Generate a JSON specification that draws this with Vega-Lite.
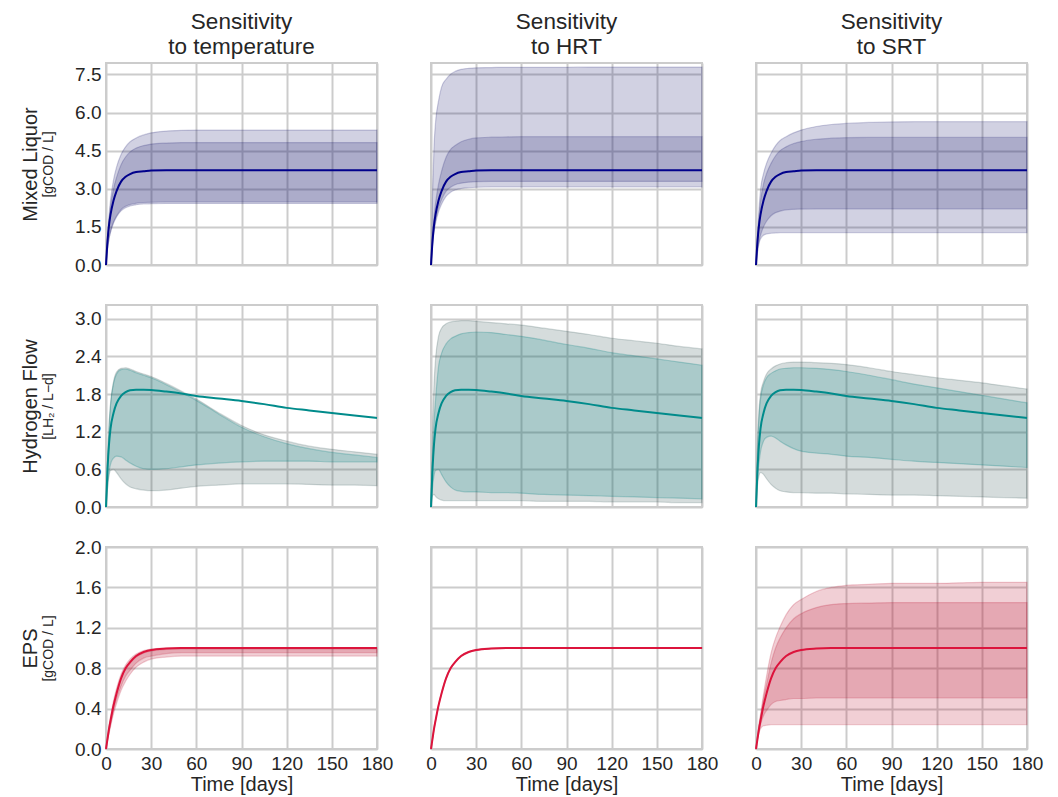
{
"$schema": "https://vega.github.io/schema/vega-lite/v6.json",
"background": "white",
"padding": {"left": 19, "top": 9, "right": 5, "bottom": 5},
"datasets": {"d": [
{"p":"MT","t":0,"c":0,"ol":0,"oh":0,"il":0,"ih":0},
{"p":"MT","t":1,"c":0.93,"ol":0.61,"oh":1.1,"il":0.62,"ih":1.0},
{"p":"MT","t":2,"c":1.57,"ol":1.02,"oh":1.95,"il":1.04,"ih":1.75},
{"p":"MT","t":3,"c":1.98,"ol":1.28,"oh":2.55,"il":1.31,"ih":2.3},
{"p":"MT","t":5,"c":2.54,"ol":1.65,"oh":3.35,"il":1.69,"ih":3.0},
{"p":"MT","t":7,"c":2.91,"ol":1.89,"oh":3.85,"il":1.93,"ih":3.45},
{"p":"MT","t":10,"c":3.28,"ol":2.13,"oh":4.35,"il":2.18,"ih":3.95},
{"p":"MT","t":13,"c":3.47,"ol":2.25,"oh":4.65,"il":2.31,"ih":4.25},
{"p":"MT","t":16,"c":3.58,"ol":2.32,"oh":4.85,"il":2.38,"ih":4.45},
{"p":"MT","t":20,"c":3.66,"ol":2.37,"oh":5.0,"il":2.43,"ih":4.6},
{"p":"MT","t":25,"c":3.69,"ol":2.4,"oh":5.12,"il":2.46,"ih":4.7},
{"p":"MT","t":30,"c":3.72,"ol":2.41,"oh":5.2,"il":2.47,"ih":4.76},
{"p":"MT","t":40,"c":3.73,"ol":2.42,"oh":5.27,"il":2.48,"ih":4.8},
{"p":"MT","t":50,"c":3.73,"ol":2.42,"oh":5.3,"il":2.48,"ih":4.82},
{"p":"MT","t":60,"c":3.73,"ol":2.42,"oh":5.31,"il":2.48,"ih":4.82},
{"p":"MT","t":75,"c":3.73,"ol":2.42,"oh":5.31,"il":2.48,"ih":4.82},
{"p":"MT","t":90,"c":3.73,"ol":2.42,"oh":5.31,"il":2.48,"ih":4.82},
{"p":"MT","t":105,"c":3.73,"ol":2.42,"oh":5.31,"il":2.48,"ih":4.82},
{"p":"MT","t":120,"c":3.73,"ol":2.42,"oh":5.31,"il":2.48,"ih":4.82},
{"p":"MT","t":135,"c":3.73,"ol":2.42,"oh":5.31,"il":2.48,"ih":4.82},
{"p":"MT","t":150,"c":3.73,"ol":2.42,"oh":5.31,"il":2.48,"ih":4.82},
{"p":"MT","t":165,"c":3.73,"ol":2.42,"oh":5.31,"il":2.48,"ih":4.82},
{"p":"MT","t":180,"c":3.73,"ol":2.42,"oh":5.31,"il":2.48,"ih":4.82},

{"p":"MH","t":0,"c":0,"ol":0,"oh":0,"il":0,"ih":0},
{"p":"MH","t":1,"c":0.93,"ol":0.77,"oh":2.72,"il":0.82,"ih":1.06},
{"p":"MH","t":2,"c":1.57,"ol":1.29,"oh":4.67,"il":1.38,"ih":1.87},
{"p":"MH","t":3,"c":1.98,"ol":1.63,"oh":5.6,"il":1.74,"ih":2.42},
{"p":"MH","t":5,"c":2.54,"ol":2.09,"oh":6.46,"il":2.24,"ih":3.18},
{"p":"MH","t":7,"c":2.91,"ol":2.39,"oh":7.0,"il":2.57,"ih":3.69},
{"p":"MH","t":10,"c":3.28,"ol":2.7,"oh":7.31,"il":2.9,"ih":4.24},
{"p":"MH","t":13,"c":3.47,"ol":2.86,"oh":7.51,"il":3.06,"ih":4.55},
{"p":"MH","t":16,"c":3.58,"ol":2.95,"oh":7.62,"il":3.16,"ih":4.7},
{"p":"MH","t":20,"c":3.66,"ol":3.01,"oh":7.7,"il":3.22,"ih":4.85},
{"p":"MH","t":25,"c":3.69,"ol":3.04,"oh":7.74,"il":3.26,"ih":4.95},
{"p":"MH","t":30,"c":3.72,"ol":3.06,"oh":7.76,"il":3.28,"ih":5.0},
{"p":"MH","t":40,"c":3.73,"ol":3.07,"oh":7.77,"il":3.29,"ih":5.03},
{"p":"MH","t":50,"c":3.73,"ol":3.07,"oh":7.78,"il":3.29,"ih":5.04},
{"p":"MH","t":60,"c":3.73,"ol":3.07,"oh":7.78,"il":3.29,"ih":5.05},
{"p":"MH","t":75,"c":3.73,"ol":3.07,"oh":7.78,"il":3.29,"ih":5.05},
{"p":"MH","t":90,"c":3.73,"ol":3.07,"oh":7.78,"il":3.29,"ih":5.05},
{"p":"MH","t":105,"c":3.73,"ol":3.07,"oh":7.79,"il":3.29,"ih":5.05},
{"p":"MH","t":120,"c":3.73,"ol":3.07,"oh":7.79,"il":3.29,"ih":5.05},
{"p":"MH","t":135,"c":3.73,"ol":3.07,"oh":7.79,"il":3.29,"ih":5.05},
{"p":"MH","t":150,"c":3.73,"ol":3.07,"oh":7.79,"il":3.29,"ih":5.05},
{"p":"MH","t":165,"c":3.73,"ol":3.07,"oh":7.79,"il":3.29,"ih":5.05},
{"p":"MH","t":180,"c":3.73,"ol":3.07,"oh":7.79,"il":3.29,"ih":5.05},

{"p":"MS","t":0,"c":0,"ol":0,"oh":0,"il":0,"ih":0},
{"p":"MS","t":1,"c":0.93,"ol":0.5,"oh":1.2,"il":0.55,"ih":1.05},
{"p":"MS","t":2,"c":1.57,"ol":0.85,"oh":2.2,"il":0.93,"ih":1.9},
{"p":"MS","t":3,"c":1.98,"ol":1.02,"oh":2.95,"il":1.17,"ih":2.5},
{"p":"MS","t":5,"c":2.54,"ol":1.17,"oh":3.6,"il":1.5,"ih":3.2},
{"p":"MS","t":7,"c":2.91,"ol":1.22,"oh":4.0,"il":1.72,"ih":3.6},
{"p":"MS","t":10,"c":3.28,"ol":1.25,"oh":4.4,"il":1.94,"ih":4.0},
{"p":"MS","t":13,"c":3.47,"ol":1.26,"oh":4.7,"il":2.06,"ih":4.3},
{"p":"MS","t":16,"c":3.58,"ol":1.27,"oh":4.9,"il":2.12,"ih":4.5},
{"p":"MS","t":20,"c":3.66,"ol":1.27,"oh":5.05,"il":2.17,"ih":4.65},
{"p":"MS","t":25,"c":3.69,"ol":1.27,"oh":5.2,"il":2.19,"ih":4.78},
{"p":"MS","t":30,"c":3.72,"ol":1.27,"oh":5.31,"il":2.2,"ih":4.86},
{"p":"MS","t":40,"c":3.73,"ol":1.27,"oh":5.45,"il":2.21,"ih":4.95},
{"p":"MS","t":50,"c":3.73,"ol":1.27,"oh":5.53,"il":2.21,"ih":4.99},
{"p":"MS","t":60,"c":3.73,"ol":1.27,"oh":5.57,"il":2.21,"ih":5.01},
{"p":"MS","t":75,"c":3.73,"ol":1.27,"oh":5.61,"il":2.21,"ih":5.02},
{"p":"MS","t":90,"c":3.73,"ol":1.27,"oh":5.63,"il":2.21,"ih":5.02},
{"p":"MS","t":105,"c":3.73,"ol":1.27,"oh":5.64,"il":2.21,"ih":5.02},
{"p":"MS","t":120,"c":3.73,"ol":1.27,"oh":5.64,"il":2.21,"ih":5.02},
{"p":"MS","t":135,"c":3.73,"ol":1.27,"oh":5.64,"il":2.21,"ih":5.02},
{"p":"MS","t":150,"c":3.73,"ol":1.27,"oh":5.64,"il":2.21,"ih":5.02},
{"p":"MS","t":165,"c":3.73,"ol":1.27,"oh":5.64,"il":2.21,"ih":5.02},
{"p":"MS","t":180,"c":3.73,"ol":1.27,"oh":5.64,"il":2.21,"ih":5.02},

{"p":"HT","t":0,"c":0,"ol":0,"oh":0,"il":0,"ih":0},
{"p":"HT","t":1,"c":0.6,"ol":0.3,"oh":0.7,"il":0.3,"ih":0.68},
{"p":"HT","t":2,"c":1.0,"ol":0.5,"oh":1.3,"il":0.55,"ih":1.27},
{"p":"HT","t":3,"c":1.25,"ol":0.58,"oh":1.65,"il":0.68,"ih":1.62},
{"p":"HT","t":5,"c":1.5,"ol":0.6,"oh":2.0,"il":0.78,"ih":1.97},
{"p":"HT","t":7,"c":1.65,"ol":0.55,"oh":2.15,"il":0.81,"ih":2.12},
{"p":"HT","t":10,"c":1.77,"ol":0.45,"oh":2.21,"il":0.8,"ih":2.19},
{"p":"HT","t":13,"c":1.83,"ol":0.37,"oh":2.22,"il":0.75,"ih":2.2},
{"p":"HT","t":16,"c":1.86,"ol":0.32,"oh":2.2,"il":0.7,"ih":2.18},
{"p":"HT","t":20,"c":1.87,"ol":0.29,"oh":2.16,"il":0.65,"ih":2.14},
{"p":"HT","t":25,"c":1.87,"ol":0.27,"oh":2.12,"il":0.61,"ih":2.1},
{"p":"HT","t":30,"c":1.865,"ol":0.26,"oh":2.08,"il":0.6,"ih":2.06},
{"p":"HT","t":40,"c":1.84,"ol":0.27,"oh":1.97,"il":0.61,"ih":1.95},
{"p":"HT","t":50,"c":1.81,"ol":0.3,"oh":1.85,"il":0.64,"ih":1.83},
{"p":"HT","t":60,"c":1.77,"ol":0.33,"oh":1.72,"il":0.67,"ih":1.7},
{"p":"HT","t":75,"c":1.73,"ol":0.35,"oh":1.5,"il":0.7,"ih":1.48},
{"p":"HT","t":90,"c":1.69,"ol":0.37,"oh":1.3,"il":0.72,"ih":1.27},
{"p":"HT","t":105,"c":1.64,"ol":0.37,"oh":1.15,"il":0.73,"ih":1.12},
{"p":"HT","t":120,"c":1.58,"ol":0.37,"oh":1.05,"il":0.73,"ih":1.01},
{"p":"HT","t":135,"c":1.54,"ol":0.36,"oh":0.97,"il":0.73,"ih":0.93},
{"p":"HT","t":150,"c":1.5,"ol":0.35,"oh":0.92,"il":0.72,"ih":0.87},
{"p":"HT","t":165,"c":1.46,"ol":0.35,"oh":0.88,"il":0.72,"ih":0.83},
{"p":"HT","t":180,"c":1.42,"ol":0.34,"oh":0.84,"il":0.72,"ih":0.79},

{"p":"HH","t":0,"c":0,"ol":0,"oh":0,"il":0,"ih":0},
{"p":"HH","t":1,"c":0.6,"ol":0.18,"oh":1.2,"il":0.3,"ih":0.8},
{"p":"HH","t":2,"c":1.0,"ol":0.2,"oh":1.95,"il":0.5,"ih":1.35},
{"p":"HH","t":3,"c":1.25,"ol":0.17,"oh":2.35,"il":0.58,"ih":1.7},
{"p":"HH","t":5,"c":1.5,"ol":0.13,"oh":2.72,"il":0.6,"ih":2.24},
{"p":"HH","t":7,"c":1.65,"ol":0.11,"oh":2.85,"il":0.52,"ih":2.45},
{"p":"HH","t":10,"c":1.77,"ol":0.1,"oh":2.92,"il":0.4,"ih":2.6},
{"p":"HH","t":13,"c":1.83,"ol":0.1,"oh":2.95,"il":0.32,"ih":2.68},
{"p":"HH","t":16,"c":1.86,"ol":0.1,"oh":2.96,"il":0.27,"ih":2.72},
{"p":"HH","t":20,"c":1.87,"ol":0.1,"oh":2.97,"il":0.25,"ih":2.76},
{"p":"HH","t":25,"c":1.87,"ol":0.1,"oh":2.97,"il":0.24,"ih":2.78},
{"p":"HH","t":30,"c":1.865,"ol":0.1,"oh":2.96,"il":0.24,"ih":2.79},
{"p":"HH","t":40,"c":1.84,"ol":0.1,"oh":2.94,"il":0.23,"ih":2.78},
{"p":"HH","t":50,"c":1.81,"ol":0.1,"oh":2.92,"il":0.23,"ih":2.75},
{"p":"HH","t":60,"c":1.77,"ol":0.1,"oh":2.9,"il":0.22,"ih":2.72},
{"p":"HH","t":75,"c":1.73,"ol":0.09,"oh":2.85,"il":0.2,"ih":2.66},
{"p":"HH","t":90,"c":1.69,"ol":0.09,"oh":2.8,"il":0.19,"ih":2.59},
{"p":"HH","t":105,"c":1.64,"ol":0.09,"oh":2.75,"il":0.18,"ih":2.53},
{"p":"HH","t":120,"c":1.58,"ol":0.08,"oh":2.69,"il":0.17,"ih":2.46},
{"p":"HH","t":135,"c":1.54,"ol":0.08,"oh":2.65,"il":0.16,"ih":2.41},
{"p":"HH","t":150,"c":1.5,"ol":0.08,"oh":2.61,"il":0.15,"ih":2.36},
{"p":"HH","t":165,"c":1.46,"ol":0.07,"oh":2.56,"il":0.14,"ih":2.31},
{"p":"HH","t":180,"c":1.42,"ol":0.07,"oh":2.52,"il":0.13,"ih":2.26},

{"p":"HS","t":0,"c":0,"ol":0,"oh":0,"il":0,"ih":0},
{"p":"HS","t":1,"c":0.6,"ol":0.35,"oh":1.0,"il":0.45,"ih":0.9},
{"p":"HS","t":2,"c":1.0,"ol":0.5,"oh":1.55,"il":0.7,"ih":1.45},
{"p":"HS","t":3,"c":1.25,"ol":0.55,"oh":1.8,"il":0.88,"ih":1.72},
{"p":"HS","t":5,"c":1.5,"ol":0.52,"oh":2.0,"il":1.05,"ih":1.95},
{"p":"HS","t":7,"c":1.65,"ol":0.45,"oh":2.12,"il":1.11,"ih":2.06},
{"p":"HS","t":10,"c":1.77,"ol":0.36,"oh":2.2,"il":1.13,"ih":2.13},
{"p":"HS","t":13,"c":1.83,"ol":0.3,"oh":2.25,"il":1.1,"ih":2.17},
{"p":"HS","t":16,"c":1.86,"ol":0.26,"oh":2.28,"il":1.05,"ih":2.2},
{"p":"HS","t":20,"c":1.87,"ol":0.24,"oh":2.3,"il":0.99,"ih":2.21},
{"p":"HS","t":25,"c":1.87,"ol":0.23,"oh":2.31,"il":0.93,"ih":2.22},
{"p":"HS","t":30,"c":1.865,"ol":0.23,"oh":2.31,"il":0.89,"ih":2.22},
{"p":"HS","t":40,"c":1.84,"ol":0.22,"oh":2.3,"il":0.86,"ih":2.21},
{"p":"HS","t":50,"c":1.81,"ol":0.22,"oh":2.29,"il":0.84,"ih":2.19},
{"p":"HS","t":60,"c":1.77,"ol":0.21,"oh":2.27,"il":0.81,"ih":2.16},
{"p":"HS","t":75,"c":1.73,"ol":0.2,"oh":2.22,"il":0.79,"ih":2.1},
{"p":"HS","t":90,"c":1.69,"ol":0.19,"oh":2.16,"il":0.76,"ih":2.03},
{"p":"HS","t":105,"c":1.64,"ol":0.19,"oh":2.11,"il":0.73,"ih":1.96},
{"p":"HS","t":120,"c":1.58,"ol":0.18,"oh":2.06,"il":0.71,"ih":1.9},
{"p":"HS","t":135,"c":1.54,"ol":0.17,"oh":2.02,"il":0.69,"ih":1.84},
{"p":"HS","t":150,"c":1.5,"ol":0.16,"oh":1.98,"il":0.67,"ih":1.78},
{"p":"HS","t":165,"c":1.46,"ol":0.15,"oh":1.93,"il":0.65,"ih":1.72},
{"p":"HS","t":180,"c":1.42,"ol":0.14,"oh":1.88,"il":0.63,"ih":1.66},

{"p":"ET","t":0,"c":0,"ol":0,"oh":0,"il":0,"ih":0},
{"p":"ET","t":1,"c":0.1,"ol":0.08,"oh":0.12,"il":0.09,"ih":0.1},
{"p":"ET","t":2,"c":0.2,"ol":0.15,"oh":0.23,"il":0.17,"ih":0.2},
{"p":"ET","t":3,"c":0.28,"ol":0.22,"oh":0.32,"il":0.24,"ih":0.28},
{"p":"ET","t":5,"c":0.43,"ol":0.35,"oh":0.48,"il":0.38,"ih":0.43},
{"p":"ET","t":7,"c":0.55,"ol":0.45,"oh":0.6,"il":0.49,"ih":0.55},
{"p":"ET","t":10,"c":0.7,"ol":0.58,"oh":0.74,"il":0.62,"ih":0.7},
{"p":"ET","t":13,"c":0.8,"ol":0.67,"oh":0.83,"il":0.72,"ih":0.79},
{"p":"ET","t":16,"c":0.86,"ol":0.74,"oh":0.89,"il":0.78,"ih":0.85},
{"p":"ET","t":20,"c":0.92,"ol":0.81,"oh":0.94,"il":0.85,"ih":0.91},
{"p":"ET","t":25,"c":0.96,"ol":0.86,"oh":0.975,"il":0.9,"ih":0.95},
{"p":"ET","t":30,"c":0.98,"ol":0.89,"oh":0.99,"il":0.92,"ih":0.97},
{"p":"ET","t":40,"c":0.995,"ol":0.91,"oh":1.0,"il":0.945,"ih":0.985},
{"p":"ET","t":50,"c":1.0,"ol":0.92,"oh":1.005,"il":0.955,"ih":0.99},
{"p":"ET","t":60,"c":1.0,"ol":0.92,"oh":1.005,"il":0.955,"ih":0.99},
{"p":"ET","t":75,"c":1.0,"ol":0.92,"oh":1.005,"il":0.955,"ih":0.99},
{"p":"ET","t":90,"c":1.0,"ol":0.92,"oh":1.005,"il":0.955,"ih":0.99},
{"p":"ET","t":105,"c":1.0,"ol":0.92,"oh":1.005,"il":0.955,"ih":0.99},
{"p":"ET","t":120,"c":1.0,"ol":0.92,"oh":1.005,"il":0.955,"ih":0.99},
{"p":"ET","t":135,"c":1.0,"ol":0.92,"oh":1.005,"il":0.955,"ih":0.99},
{"p":"ET","t":150,"c":1.0,"ol":0.92,"oh":1.005,"il":0.955,"ih":0.99},
{"p":"ET","t":165,"c":1.0,"ol":0.92,"oh":1.005,"il":0.955,"ih":0.99},
{"p":"ET","t":180,"c":1.0,"ol":0.92,"oh":1.005,"il":0.955,"ih":0.99},

{"p":"EH","t":0,"c":0,"ol":0,"oh":0,"il":0,"ih":0},
{"p":"EH","t":1,"c":0.1,"ol":0.095,"oh":0.105,"il":0.1,"ih":0.1},
{"p":"EH","t":2,"c":0.2,"ol":0.195,"oh":0.205,"il":0.2,"ih":0.2},
{"p":"EH","t":3,"c":0.28,"ol":0.275,"oh":0.285,"il":0.28,"ih":0.28},
{"p":"EH","t":5,"c":0.43,"ol":0.425,"oh":0.435,"il":0.43,"ih":0.43},
{"p":"EH","t":7,"c":0.55,"ol":0.545,"oh":0.555,"il":0.55,"ih":0.55},
{"p":"EH","t":10,"c":0.7,"ol":0.695,"oh":0.705,"il":0.7,"ih":0.7},
{"p":"EH","t":13,"c":0.8,"ol":0.795,"oh":0.805,"il":0.8,"ih":0.8},
{"p":"EH","t":16,"c":0.86,"ol":0.855,"oh":0.865,"il":0.86,"ih":0.86},
{"p":"EH","t":20,"c":0.92,"ol":0.915,"oh":0.925,"il":0.92,"ih":0.92},
{"p":"EH","t":25,"c":0.96,"ol":0.955,"oh":0.965,"il":0.96,"ih":0.96},
{"p":"EH","t":30,"c":0.98,"ol":0.975,"oh":0.985,"il":0.98,"ih":0.98},
{"p":"EH","t":40,"c":0.995,"ol":0.99,"oh":1.0,"il":0.995,"ih":0.995},
{"p":"EH","t":50,"c":1.0,"ol":0.995,"oh":1.005,"il":1.0,"ih":1.0},
{"p":"EH","t":60,"c":1.0,"ol":0.995,"oh":1.005,"il":1.0,"ih":1.0},
{"p":"EH","t":75,"c":1.0,"ol":0.995,"oh":1.005,"il":1.0,"ih":1.0},
{"p":"EH","t":90,"c":1.0,"ol":0.995,"oh":1.005,"il":1.0,"ih":1.0},
{"p":"EH","t":105,"c":1.0,"ol":0.995,"oh":1.005,"il":1.0,"ih":1.0},
{"p":"EH","t":120,"c":1.0,"ol":0.995,"oh":1.005,"il":1.0,"ih":1.0},
{"p":"EH","t":135,"c":1.0,"ol":0.995,"oh":1.005,"il":1.0,"ih":1.0},
{"p":"EH","t":150,"c":1.0,"ol":0.995,"oh":1.005,"il":1.0,"ih":1.0},
{"p":"EH","t":165,"c":1.0,"ol":0.995,"oh":1.005,"il":1.0,"ih":1.0},
{"p":"EH","t":180,"c":1.0,"ol":0.995,"oh":1.005,"il":1.0,"ih":1.0},

{"p":"ES","t":0,"c":0,"ol":0,"oh":0,"il":0,"ih":0},
{"p":"ES","t":1,"c":0.1,"ol":0.1,"oh":0.13,"il":0.1,"ih":0.12},
{"p":"ES","t":2,"c":0.2,"ol":0.16,"oh":0.25,"il":0.18,"ih":0.23},
{"p":"ES","t":3,"c":0.28,"ol":0.2,"oh":0.34,"il":0.24,"ih":0.32},
{"p":"ES","t":5,"c":0.43,"ol":0.23,"oh":0.54,"il":0.33,"ih":0.5},
{"p":"ES","t":7,"c":0.55,"ol":0.235,"oh":0.72,"il":0.38,"ih":0.64},
{"p":"ES","t":10,"c":0.7,"ol":0.24,"oh":0.95,"il":0.44,"ih":0.85},
{"p":"ES","t":13,"c":0.8,"ol":0.24,"oh":1.1,"il":0.47,"ih":1.0},
{"p":"ES","t":16,"c":0.86,"ol":0.24,"oh":1.21,"il":0.48,"ih":1.1},
{"p":"ES","t":20,"c":0.92,"ol":0.24,"oh":1.33,"il":0.49,"ih":1.2},
{"p":"ES","t":25,"c":0.96,"ol":0.24,"oh":1.43,"il":0.5,"ih":1.29},
{"p":"ES","t":30,"c":0.98,"ol":0.24,"oh":1.48,"il":0.5,"ih":1.34},
{"p":"ES","t":40,"c":0.995,"ol":0.24,"oh":1.56,"il":0.505,"ih":1.4},
{"p":"ES","t":50,"c":1.0,"ol":0.24,"oh":1.6,"il":0.505,"ih":1.43},
{"p":"ES","t":60,"c":1.0,"ol":0.24,"oh":1.62,"il":0.505,"ih":1.44},
{"p":"ES","t":75,"c":1.0,"ol":0.24,"oh":1.63,"il":0.505,"ih":1.445},
{"p":"ES","t":90,"c":1.0,"ol":0.24,"oh":1.64,"il":0.505,"ih":1.45},
{"p":"ES","t":105,"c":1.0,"ol":0.24,"oh":1.64,"il":0.505,"ih":1.45},
{"p":"ES","t":120,"c":1.0,"ol":0.24,"oh":1.64,"il":0.505,"ih":1.45},
{"p":"ES","t":135,"c":1.0,"ol":0.24,"oh":1.645,"il":0.505,"ih":1.45},
{"p":"ES","t":150,"c":1.0,"ol":0.24,"oh":1.65,"il":0.505,"ih":1.45},
{"p":"ES","t":165,"c":1.0,"ol":0.24,"oh":1.65,"il":0.505,"ih":1.45},
{"p":"ES","t":180,"c":1.0,"ol":0.24,"oh":1.65,"il":0.505,"ih":1.45}
]},
"columns": 3,
"bounds": "flush",
"spacing": {"row": 40, "column": 54},
"concat": [
{"width": 271, "height": 202, "data": {"name": "d"}, "transform": [{"filter": "datum.p == 'MT'"}],
 "title": {"text": ["Sensitivity", "to temperature"]},
 "encoding": {"x": {"field": "t", "type": "quantitative", "scale": {"domain": [0, 180], "nice": false}, "axis": {"values": [0,30,60,90,120,150,180], "labels": false, "title": null}}},
 "layer": [
  {"mark": {"type": "area", "interpolate": "monotone", "fill": "#191970", "fillOpacity": 0.2, "stroke": "#191970", "strokeOpacity": 0.2, "strokeWidth": 1.2},
   "encoding": {"y": {"field": "ol", "type": "quantitative", "scale": {"domain": [0, 7.95], "nice": false}, "axis": {"values": [0,1.5,3,4.5,6,7.5], "format": ".1f", "title": "[gCOD / L]", "titleFontSize": 14, "titlePadding": 19}}, "y2": {"field": "oh"}}},
  {"mark": {"type": "area", "interpolate": "monotone", "fill": "#191970", "fillOpacity": 0.2, "stroke": "#191970", "strokeOpacity": 0.2, "strokeWidth": 1.2},
   "encoding": {"y": {"field": "il", "type": "quantitative", "axis": {"orient": "left", "offset": 64, "title": "Mixed Liquor", "labels": false, "grid": false, "ticks": false, "domain": false, "titlePadding": 2}}, "y2": {"field": "ih"}}},
  {"mark": {"type": "line", "interpolate": "monotone", "color": "#00008b", "strokeWidth": 2},
   "encoding": {"y": {"field": "c", "type": "quantitative", "axis": null}}}
 ],
 "resolve": {"axis": {"y": "independent"}}},
{"width": 271, "height": 202, "data": {"name": "d"}, "transform": [{"filter": "datum.p == 'MH'"}],
 "title": {"text": ["Sensitivity", "to HRT"]},
 "encoding": {"x": {"field": "t", "type": "quantitative", "scale": {"domain": [0, 180], "nice": false}, "axis": {"values": [0,30,60,90,120,150,180], "labels": false, "title": null}}},
 "layer": [
  {"mark": {"type": "area", "interpolate": "monotone", "fill": "#191970", "fillOpacity": 0.2, "stroke": "#191970", "strokeOpacity": 0.2, "strokeWidth": 1.2},
   "encoding": {"y": {"field": "ol", "type": "quantitative", "title": null, "scale": {"domain": [0, 7.95], "nice": false}, "axis": {"values": [0,1.5,3,4.5,6,7.5], "labels": false}}, "y2": {"field": "oh"}}},
  {"mark": {"type": "area", "interpolate": "monotone", "fill": "#191970", "fillOpacity": 0.2, "stroke": "#191970", "strokeOpacity": 0.2, "strokeWidth": 1.2},
   "encoding": {"y": {"field": "il", "type": "quantitative", "title": null}, "y2": {"field": "ih"}}},
  {"mark": {"type": "line", "interpolate": "monotone", "color": "#00008b", "strokeWidth": 2},
   "encoding": {"y": {"field": "c", "type": "quantitative", "title": null}}}
 ]},
{"width": 271, "height": 202, "data": {"name": "d"}, "transform": [{"filter": "datum.p == 'MS'"}],
 "title": {"text": ["Sensitivity", "to SRT"]},
 "encoding": {"x": {"field": "t", "type": "quantitative", "scale": {"domain": [0, 180], "nice": false}, "axis": {"values": [0,30,60,90,120,150,180], "labels": false, "title": null}}},
 "layer": [
  {"mark": {"type": "area", "interpolate": "monotone", "fill": "#191970", "fillOpacity": 0.2, "stroke": "#191970", "strokeOpacity": 0.2, "strokeWidth": 1.2},
   "encoding": {"y": {"field": "ol", "type": "quantitative", "title": null, "scale": {"domain": [0, 7.95], "nice": false}, "axis": {"values": [0,1.5,3,4.5,6,7.5], "labels": false}}, "y2": {"field": "oh"}}},
  {"mark": {"type": "area", "interpolate": "monotone", "fill": "#191970", "fillOpacity": 0.2, "stroke": "#191970", "strokeOpacity": 0.2, "strokeWidth": 1.2},
   "encoding": {"y": {"field": "il", "type": "quantitative", "title": null}, "y2": {"field": "ih"}}},
  {"mark": {"type": "line", "interpolate": "monotone", "color": "#00008b", "strokeWidth": 2},
   "encoding": {"y": {"field": "c", "type": "quantitative", "title": null}}}
 ]},
{"width": 271, "height": 202, "data": {"name": "d"}, "transform": [{"filter": "datum.p == 'HT'"}],
 "encoding": {"x": {"field": "t", "type": "quantitative", "scale": {"domain": [0, 180], "nice": false}, "axis": {"values": [0,30,60,90,120,150,180], "labels": false, "title": null}}},
 "layer": [
  {"mark": {"type": "area", "interpolate": "monotone", "fill": "#2f4f4f", "fillOpacity": 0.2, "stroke": "#2f4f4f", "strokeOpacity": 0.2, "strokeWidth": 1.2},
   "encoding": {"y": {"field": "ol", "type": "quantitative", "scale": {"domain": [0, 3.22], "nice": false}, "axis": {"values": [0,0.6,1.2,1.8,2.4,3.0], "format": ".1f", "title": "[LH₂ / L−d]", "titleFontSize": 14, "titlePadding": 19}}, "y2": {"field": "oh"}}},
  {"mark": {"type": "area", "interpolate": "monotone", "fill": "#008080", "fillOpacity": 0.2, "stroke": "#008080", "strokeOpacity": 0.25, "strokeWidth": 1.2},
   "encoding": {"y": {"field": "il", "type": "quantitative", "axis": {"orient": "left", "offset": 64, "title": "Hydrogen Flow", "labels": false, "grid": false, "ticks": false, "domain": false, "titlePadding": 2}}, "y2": {"field": "ih"}}},
  {"mark": {"type": "line", "interpolate": "monotone", "color": "#008b8b", "strokeWidth": 2},
   "encoding": {"y": {"field": "c", "type": "quantitative", "axis": null}}}
 ],
 "resolve": {"axis": {"y": "independent"}}},
{"width": 271, "height": 202, "data": {"name": "d"}, "transform": [{"filter": "datum.p == 'HH'"}],
 "encoding": {"x": {"field": "t", "type": "quantitative", "scale": {"domain": [0, 180], "nice": false}, "axis": {"values": [0,30,60,90,120,150,180], "labels": false, "title": null}}},
 "layer": [
  {"mark": {"type": "area", "interpolate": "monotone", "fill": "#2f4f4f", "fillOpacity": 0.2, "stroke": "#2f4f4f", "strokeOpacity": 0.2, "strokeWidth": 1.2},
   "encoding": {"y": {"field": "ol", "type": "quantitative", "title": null, "scale": {"domain": [0, 3.22], "nice": false}, "axis": {"values": [0,0.6,1.2,1.8,2.4,3.0], "labels": false}}, "y2": {"field": "oh"}}},
  {"mark": {"type": "area", "interpolate": "monotone", "fill": "#008080", "fillOpacity": 0.2, "stroke": "#008080", "strokeOpacity": 0.25, "strokeWidth": 1.2},
   "encoding": {"y": {"field": "il", "type": "quantitative", "title": null}, "y2": {"field": "ih"}}},
  {"mark": {"type": "line", "interpolate": "monotone", "color": "#008b8b", "strokeWidth": 2},
   "encoding": {"y": {"field": "c", "type": "quantitative", "title": null}}}
 ]},
{"width": 271, "height": 202, "data": {"name": "d"}, "transform": [{"filter": "datum.p == 'HS'"}],
 "encoding": {"x": {"field": "t", "type": "quantitative", "scale": {"domain": [0, 180], "nice": false}, "axis": {"values": [0,30,60,90,120,150,180], "labels": false, "title": null}}},
 "layer": [
  {"mark": {"type": "area", "interpolate": "monotone", "fill": "#2f4f4f", "fillOpacity": 0.2, "stroke": "#2f4f4f", "strokeOpacity": 0.2, "strokeWidth": 1.2},
   "encoding": {"y": {"field": "ol", "type": "quantitative", "title": null, "scale": {"domain": [0, 3.22], "nice": false}, "axis": {"values": [0,0.6,1.2,1.8,2.4,3.0], "labels": false}}, "y2": {"field": "oh"}}},
  {"mark": {"type": "area", "interpolate": "monotone", "fill": "#008080", "fillOpacity": 0.2, "stroke": "#008080", "strokeOpacity": 0.25, "strokeWidth": 1.2},
   "encoding": {"y": {"field": "il", "type": "quantitative", "title": null}, "y2": {"field": "ih"}}},
  {"mark": {"type": "line", "interpolate": "monotone", "color": "#008b8b", "strokeWidth": 2},
   "encoding": {"y": {"field": "c", "type": "quantitative", "title": null}}}
 ]},
{"width": 271, "height": 202, "data": {"name": "d"}, "transform": [{"filter": "datum.p == 'ET'"}],
 "encoding": {"x": {"field": "t", "type": "quantitative", "scale": {"domain": [0, 180], "nice": false}, "axis": {"values": [0,30,60,90,120,150,180], "format": "d", "title": "Time [days]", "labelFlush": false, "labelOverlap": false, "titlePadding": 1}}},
 "layer": [
  {"mark": {"type": "area", "interpolate": "monotone", "fill": "#b8102e", "fillOpacity": 0.2, "stroke": "#b8102e", "strokeOpacity": 0.2, "strokeWidth": 1.2},
   "encoding": {"y": {"field": "ol", "type": "quantitative", "scale": {"domain": [0, 2.0], "nice": false}, "axis": {"values": [0,0.4,0.8,1.2,1.6,2.0], "format": ".1f", "title": "[gCOD / L]", "titleFontSize": 14, "titlePadding": 19}}, "y2": {"field": "oh"}}},
  {"mark": {"type": "area", "interpolate": "monotone", "fill": "#b8102e", "fillOpacity": 0.2, "stroke": "#b8102e", "strokeOpacity": 0.2, "strokeWidth": 1.2},
   "encoding": {"y": {"field": "il", "type": "quantitative", "axis": {"orient": "left", "offset": 64, "title": "EPS", "labels": false, "grid": false, "ticks": false, "domain": false, "titlePadding": 2}}, "y2": {"field": "ih"}}},
  {"mark": {"type": "line", "interpolate": "monotone", "color": "#dc143c", "strokeWidth": 2},
   "encoding": {"y": {"field": "c", "type": "quantitative", "axis": null}}}
 ],
 "resolve": {"axis": {"y": "independent"}}},
{"width": 271, "height": 202, "data": {"name": "d"}, "transform": [{"filter": "datum.p == 'EH'"}],
 "encoding": {"x": {"field": "t", "type": "quantitative", "scale": {"domain": [0, 180], "nice": false}, "axis": {"values": [0,30,60,90,120,150,180], "format": "d", "title": "Time [days]", "labelFlush": false, "labelOverlap": false, "titlePadding": 1}}},
 "layer": [
  {"mark": {"type": "area", "interpolate": "monotone", "fill": "#b8102e", "fillOpacity": 0.2, "stroke": "#b8102e", "strokeOpacity": 0.2, "strokeWidth": 1.2},
   "encoding": {"y": {"field": "ol", "type": "quantitative", "title": null, "scale": {"domain": [0, 2.0], "nice": false}, "axis": {"values": [0,0.4,0.8,1.2,1.6,2.0], "labels": false}}, "y2": {"field": "oh"}}},
  {"mark": {"type": "area", "interpolate": "monotone", "fill": "#b8102e", "fillOpacity": 0.2, "stroke": "#b8102e", "strokeOpacity": 0.2, "strokeWidth": 1.2},
   "encoding": {"y": {"field": "il", "type": "quantitative", "title": null}, "y2": {"field": "ih"}}},
  {"mark": {"type": "line", "interpolate": "monotone", "color": "#dc143c", "strokeWidth": 2},
   "encoding": {"y": {"field": "c", "type": "quantitative", "title": null}}}
 ]},
{"width": 271, "height": 202, "data": {"name": "d"}, "transform": [{"filter": "datum.p == 'ES'"}],
 "encoding": {"x": {"field": "t", "type": "quantitative", "scale": {"domain": [0, 180], "nice": false}, "axis": {"values": [0,30,60,90,120,150,180], "format": "d", "title": "Time [days]", "labelFlush": false, "labelOverlap": false, "titlePadding": 1}}},
 "layer": [
  {"mark": {"type": "area", "interpolate": "monotone", "fill": "#b8102e", "fillOpacity": 0.2, "stroke": "#b8102e", "strokeOpacity": 0.2, "strokeWidth": 1.2},
   "encoding": {"y": {"field": "ol", "type": "quantitative", "title": null, "scale": {"domain": [0, 2.0], "nice": false}, "axis": {"values": [0,0.4,0.8,1.2,1.6,2.0], "labels": false}}, "y2": {"field": "oh"}}},
  {"mark": {"type": "area", "interpolate": "monotone", "fill": "#b8102e", "fillOpacity": 0.2, "stroke": "#b8102e", "strokeOpacity": 0.2, "strokeWidth": 1.2},
   "encoding": {"y": {"field": "il", "type": "quantitative", "title": null}, "y2": {"field": "ih"}}},
  {"mark": {"type": "line", "interpolate": "monotone", "color": "#dc143c", "strokeWidth": 2},
   "encoding": {"y": {"field": "c", "type": "quantitative", "title": null}}}
 ]}
],
"config": {
 "font": "Liberation Sans",
 "view": {"stroke": "#cccccc", "strokeWidth": 2},
 "axis": {"grid": true, "gridColor": "#cccccc", "gridWidth": 2, "domain": false, "ticks": false, "labelFontSize": 19, "labelColor": "#262626", "titleFontSize": 20, "titleColor": "#262626", "titleFontWeight": "normal", "labelPadding": 5, "titlePadding": 5, "labelFont": "Liberation Sans", "titleFont": "Liberation Sans"},
 "title": {"font": "Liberation Sans", "fontSize": 22.5, "fontWeight": "normal", "color": "#262626", "offset": 5, "lineHeight": 25}
}
}
